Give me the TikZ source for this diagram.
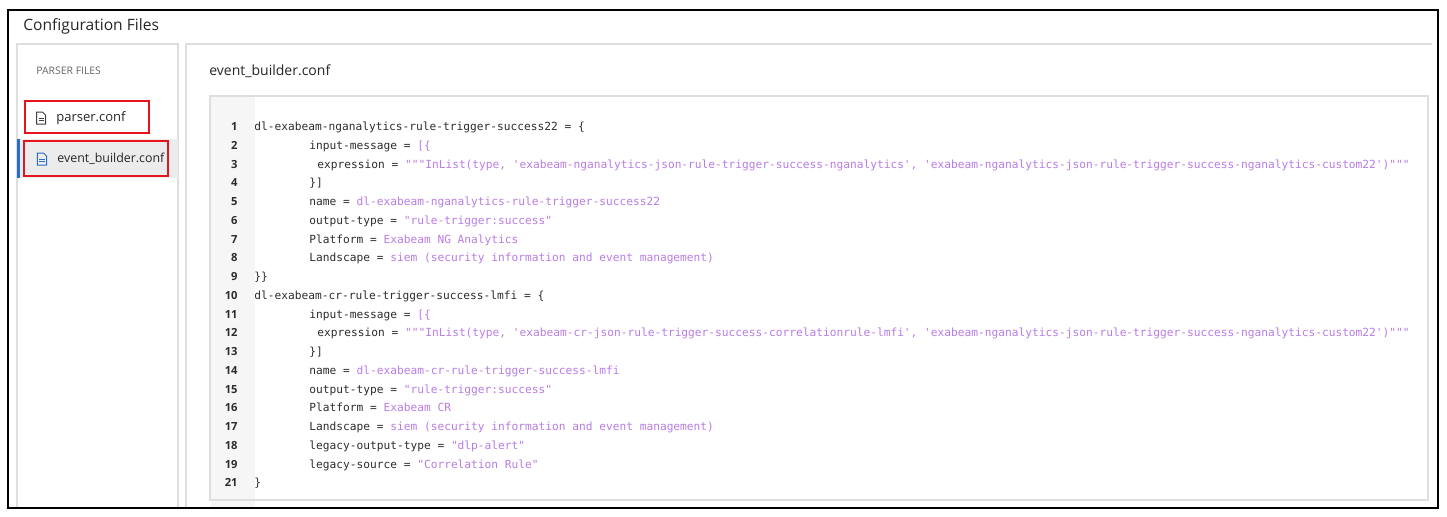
\documentclass[tikz,border=0pt]{standalone}
\usepackage{fontspec}
\setmainfont{Open Sans}
\setmonofont{DejaVu Sans Mono}
\definecolor{strc}{RGB}{185,125,230}
\definecolor{codec}{RGB}{45,45,45}
\definecolor{panelc}{RGB}{222,222,222}
\definecolor{gutc}{RGB}{246,246,246}
\definecolor{selc}{RGB}{236,236,236}
\definecolor{bluec}{RGB}{40,110,200}
\definecolor{redc}{RGB}{230,20,30}
\newcommand\sv[1]{\textcolor{strc}{#1}}
\begin{document}
\begin{tikzpicture}[x=0.5pt,y=-0.5pt,
  code/.style={anchor=base west,inner sep=0,font=\ttfamily\fontsize{5.6}{7}\selectfont,text=codec},
  lnum/.style={anchor=base east,inner sep=0,font=\bfseries\fontsize{5.6}{7}\selectfont,text=codec},
  redbox/.style={draw=redc,line width=1.1pt},
  fileicon/.style={inner sep=0,font=\fontsize{6}{7}\selectfont}]
\useasboundingbox (0,0) rectangle (1447,516);
\fill[white] (0,0) rectangle (1447,516);
% panels
\draw[panelc,line width=0.6pt] (17,508) -- (17,44) -- (178,44) -- (178,508);
\draw[panelc,line width=0.6pt] (186,508) -- (186,44) -- (1432,44);
% selected row
\fill[selc] (18,139) rectangle (177.5,178);
\fill[bluec] (17,139) rectangle (19.5,178);
% code box
\fill[gutc] (211,97) rectangle (255,508);
\draw[panelc,line width=0.6pt] (210,96) rectangle (1428,500);
% outer
\draw[black,line width=0.9pt] (8,10) rectangle (1438,508);
% texts
\node[anchor=west,inner sep=0,font=\fontsize{7.8}{9}\selectfont,text=black!85] (title) at (23,26) {Configuration Files};
\node[anchor=west,inner sep=0,font=\fontsize{5.2}{6}\selectfont,text=black!60] (pf) at (36,71) {PARSER FILES};
\node[anchor=west,inner sep=0,font=\fontsize{7}{8}\selectfont,text=black!85] (hdr) at (209,71) {event\_builder.conf};
% files
\node[anchor=west,inner sep=0,font=\fontsize{6.5}{8}\selectfont,text=black!85] (pc) at (56,118) {parser.conf};
\node[anchor=west,inner sep=0,font=\fontsize{6.2}{8}\selectfont,text=black!85] (ebc) at (57,159) {event\_builder.conf};
\node[fileicon] (ic1) at (41,118) {\tikz[x=0.5pt,y=-0.5pt]{\draw[black!75,line width=0.5pt] (0,0)--(6,0)--(9,3)--(9,12)--(0,12)--cycle; \draw[black!75,line width=0.4pt] (2,6)--(7,6) (2,8.5)--(7,8.5);}};
\node[fileicon] (ic2) at (42,159) {\tikz[x=0.5pt,y=-0.5pt]{\draw[bluec,line width=0.5pt] (0,0)--(6,0)--(9,3)--(9,12)--(0,12)--cycle; \draw[bluec,line width=0.4pt] (2,6)--(7,6) (2,8.5)--(7,8.5);}};
\draw[redbox] (25,101) rectangle (149,133);
\draw[redbox] (24,141) rectangle (168,176);
% line numbers and code
\foreach \n/\y in {1/130,2/149,3/168,4/186,5/205,6/224,7/243,8/261,9/280,10/299,11/318,12/336,13/355,14/374,15/393,16/411,17/430,18/449,19/468,21/486}{
  \node[lnum] (n\n) at (238,\y) {\n};
}
\node[code] (c1) at (254,130) {dl-exabeam-nganalytics-rule-trigger-success22 = \{};
\node[code] (c2) at (309,149) {input-message = \sv{[\{}};
\node[code] (c3) at (317,168) {expression = \sv{"""InList(type, 'exabeam-nganalytics-json-rule-trigger-success-nganalytics', 'exabeam-nganalytics-json-rule-trigger-success-nganalytics-custom22')"""}};
\node[code] (c4) at (309,186) {\}]};
\node[code] (c5) at (309,205) {name = \sv{dl-exabeam-nganalytics-rule-trigger-success22}};
\node[code] (c6) at (309,224) {output-type = \sv{"rule-trigger:success"}};
\node[code] (c7) at (309,243) {Platform = \sv{Exabeam NG Analytics}};
\node[code] (c8) at (309,261) {Landscape = \sv{siem (security information and event management)}};
\node[code] (c9) at (254,280) {\}\}};
\node[code] (c10) at (254,299) {dl-exabeam-cr-rule-trigger-success-lmfi = \{};
\node[code] (c11) at (309,318) {input-message = \sv{[\{}};
\node[code] (c12) at (317,336) {expression = \sv{"""InList(type, 'exabeam-cr-json-rule-trigger-success-correlationrule-lmfi', 'exabeam-nganalytics-json-rule-trigger-success-nganalytics-custom22')"""}};
\node[code] (c13) at (309,355) {\}]};
\node[code] (c14) at (309,374) {name = \sv{dl-exabeam-cr-rule-trigger-success-lmfi}};
\node[code] (c15) at (309,393) {output-type = \sv{"rule-trigger:success"}};
\node[code] (c16) at (309,411) {Platform = \sv{Exabeam CR}};
\node[code] (c17) at (309,430) {Landscape = \sv{siem (security information and event management)}};
\node[code] (c18) at (309,449) {legacy-output-type = \sv{"dlp-alert"}};
\node[code] (c19) at (309,468) {legacy-source = \sv{"Correlation Rule"}};
\node[code] (c21) at (254,486) {\}};
\end{tikzpicture}
\end{document}
